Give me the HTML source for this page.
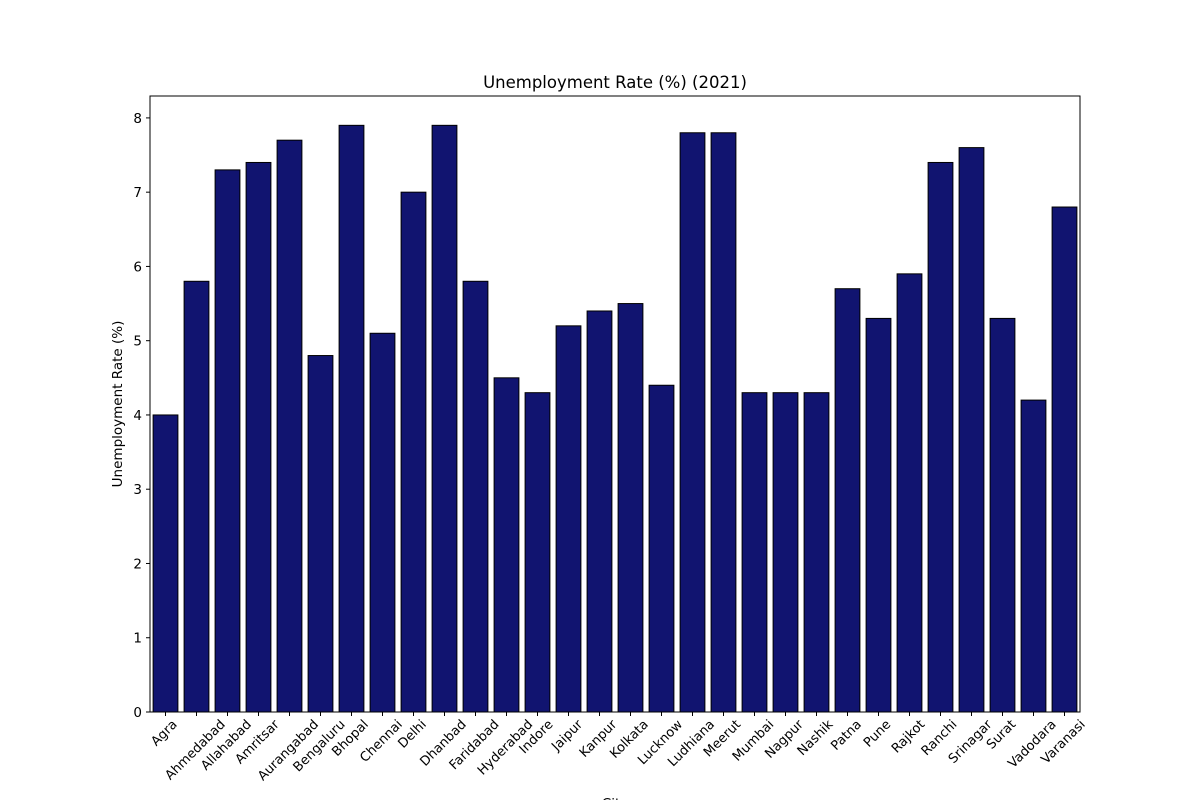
<!DOCTYPE html>
<html><head><meta charset="utf-8"><style>
body{margin:0;background:#fff;}
svg text{font-family:"DejaVu Sans","Liberation Sans",sans-serif;fill:#000;}
</style></head><body>
<svg id="chart" width="1200" height="800" xmlns="http://www.w3.org/2000/svg">
<text x="615" y="88" font-size="16.5" text-anchor="middle">Unemployment Rate (%) (2021)</text>
<g id="bars"></g>
<g id="yticks"></g>
<g id="xticks"></g>
<rect x="150" y="96" width="930" height="616" fill="none" stroke="#000" stroke-width="1"/>
<text transform="translate(122,404) rotate(-90)" font-size="13.5" text-anchor="middle">Unemployment Rate (%)</text>
<text x="615" y="808" font-size="13.5" text-anchor="middle">City</text>
</svg>
<script>
const categories=["Agra","Ahmedabad","Allahabad","Amritsar","Aurangabad","Bengaluru","Bhopal","Chennai","Delhi","Dhanbad","Faridabad","Hyderabad","Indore","Jaipur","Kanpur","Kolkata","Lucknow","Ludhiana","Meerut","Mumbai","Nagpur","Nashik","Patna","Pune","Rajkot","Ranchi","Srinagar","Surat","Vadodara","Varanasi"];
const values=[4.0,5.8,7.3,7.4,7.7,4.8,7.9,5.1,7.0,7.9,5.8,4.5,4.3,5.2,5.4,5.5,4.4,7.8,7.8,4.3,4.3,4.3,5.7,5.3,5.9,7.4,7.6,5.3,4.2,6.8];
const yTicks=[0,1,2,3,4,5,6,7,8];
const NS="http://www.w3.org/2000/svg";
const L=150,R=1080,T=96,B=712;
const yMax=Math.max(...values)*1.05;
const y=v=>B-(v/yMax)*(B-T);
const slot=(R-L)/categories.length;
const x=i=>L+slot*(i+0.5);
const bars=document.getElementById('bars'),yt=document.getElementById('yticks'),xt=document.getElementById('xticks');
function mk(t,a){const e=document.createElementNS(NS,t);for(const k in a)e.setAttribute(k,a[k]);return e;}
values.forEach((v,i)=>{
 const r=mk('rect',{x:x(i)-slot*0.4,y:y(v),width:slot*0.8,height:B-y(v),fill:'#111470',stroke:'#000','stroke-width':1});
 
 
 bars.appendChild(r);
});
yTicks.forEach(t=>{
 const l=mk('line',{x1:L-4,x2:L,y1:y(t),y2:y(t),stroke:'#000'});
 
 
 yt.appendChild(l);
 const tx=mk('text',{x:L-8,y:y(t)+5,'font-size':13.5,'text-anchor':'end'});
 
 
 tx.textContent=t;yt.appendChild(tx);
});
categories.forEach((c,i)=>{
 const l=mk('line',{x1:x(i),x2:x(i),y1:B,y2:B+4,stroke:'#000'});
 
 
 xt.appendChild(l);
 const tx=mk('text',{'font-size':13,'text-anchor':'middle'});
 
 
 tx.textContent=c;xt.appendChild(tx);
 const w=tx.getComputedTextLength();
 const h=(w+10)*Math.SQRT1_2;
 const cy=B+6+h/2;
 tx.setAttribute('transform',`translate(${x(i)-2},${cy}) rotate(-45) translate(0,5)`);
});
</script>
</body></html>
